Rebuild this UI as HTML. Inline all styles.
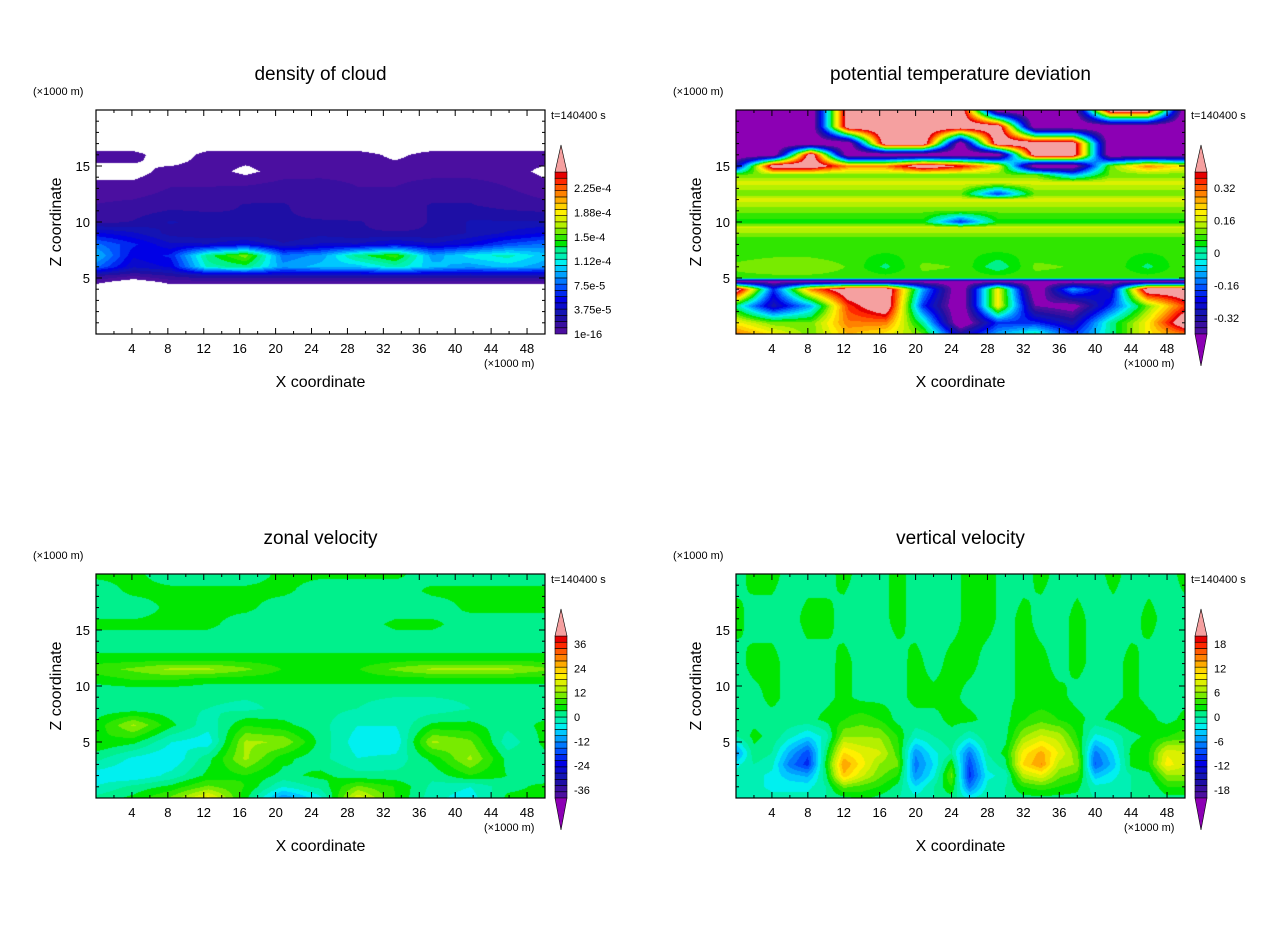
<!DOCTYPE html>
<html><head><meta charset="utf-8"><style>
html,body{margin:0;padding:0;background:#fff;}
#wrap{position:relative;width:1280px;height:926px;overflow:hidden;}
canvas{position:absolute;}
svg{position:absolute;left:0;top:0;}
text{font-family:"Liberation Sans",sans-serif;fill:#000;}
</style></head><body>
<div id="wrap">
<svg id="svg" width="1280" height="926"></svg>
</div>
<script>
// ---------- data ----------
const titles = ["density of cloud","potential temperature deviation","zonal velocity","vertical velocity"];
const cbMin = [0, -0.4, -40, -20];
const cbMax = [25, 0.4, 40, 20];
const cbLabels1 = [["1e-16",0],["3.75e-5",3.75],["7.5e-5",7.5],["1.12e-4",11.25],["1.5e-4",15],["1.88e-4",18.75],["2.25e-4",22.5]];
const cbLabels2 = [["-0.32",-0.32],["-0.16",-0.16],["0",0],["0.16",0.16],["0.32",0.32]];
const cbLabels3 = [["-36",-36],["-24",-24],["-12",-12],["0",0],["12",12],["24",24],["36",36]];
const cbLabels4 = [["-18",-18],["-12",-12],["-6",-6],["0",0],["6",6],["12",12],["18",18]];
const xTicks = [4,8,12,16,20,24,28,32,36,40,44,48];
const yTicks = [5,10,15];

// density of cloud (x1e-5), negative = no cloud
const p1Z = [20,17,16,14.5,13,11.5,10,9,8,7,6,5.2,4.6,4,0];
const p1Rows = [
[-1,-1,-1,-1,-1,-1,-1,-1,-1,-1,-1,-1,-1],
[-1,-1,-1,-1,-1,-1,-1,-1,-1,-1,-1,-1,-1],
[0.5,0.5,-1,0.5,0.5,0.5,0.5,0.5,-0.3,0.5,0.5,0.5,0.5],
[-0.5,-0.5,0.5,0.5,-0.3,0.5,0.6,0.6,0.6,0.6,0.6,0.5,-0.3],
[0.5,0.5,1,1,1.2,1.5,1.5,1,1,1.5,1.5,1,0.5],
[1,1.2,1.5,1.5,2,2,1.5,1,1.5,2,2,1.5,1.2],
[1.5,2,3,2.5,2,2,2,2,1.5,2,3,3,3],
[5,4,2.5,2,2,2,2.5,2,2,2,3,4,5],
[8,6,4,4,5,3,4,4,5,4,5,7,8],
[10,5,6,13,16,8,9,13,15,9,11,12,10],
[8,4,5,12,13,9,10,10,12,10,9,10,9],
[2,1,2,3,3,3,3,3,3,3,3,3,3],
[0.3,-1,0.3,0.3,0.3,0.3,0.3,0.3,0.3,0.3,0.3,0.3,0.3],
[-1,-1,-1,-1,-1,-1,-1,-1,-1,-1,-1,-1,-1],
[-1,-1,-1,-1,-1,-1,-1,-1,-1,-1,-1,-1,-1]];

// potential temperature deviation (K)
const p2Z = [20,18.5,17,16,15,14.2,13.5,12.5,12,11,10,9.5,8.5,7.5,6,5.0,4.7,4,2.5,1,0];
const p2Rows = [
[-0.5,-0.5,-0.5,0.5,0.5,0.5,0.5,-0.5,-0.5,-0.5,0.5,0.5,-0.5],
[-0.5,-0.5,-0.5,0.5,0.5,0.5,0.5,0.5,-0.5,-0.5,-0.5,-0.5,-0.5],
[-0.5,-0.5,-0.5,-0.5,0.5,0.5,-0.5,0.5,0.5,0.5,-0.5,-0.5,-0.5],
[-0.5,-0.5,0.5,-0.5,-0.5,-0.5,-0.5,-0.5,0.5,0.5,-0.5,-0.5,-0.5],
[-0.3,0.5,0.5,0.3,0.3,0.5,0.4,0.2,-0.5,-0.5,0.1,0.3,0.2],
[0.1,0.1,0.1,0.1,0.1,0.1,0.1,0.1,0.1,-0.1,0.1,0.1,0.1],
[0.17,0.17,0.17,0.17,0.17,0.17,0.17,0.17,0.17,0.17,0.17,0.17,0.17],
[0.1,0.1,0.1,0.1,0.1,0.1,0.1,-0.2,0.1,0.1,0.1,0.1,0.1],
[0.17,0.17,0.17,0.17,0.17,0.17,0.17,0.17,0.17,0.17,0.17,0.17,0.17],
[0.1,0.1,0.1,0.1,0.1,0.1,0.1,0.1,0.1,0.1,0.1,0.1,0.1],
[0.05,0.05,0.05,0.05,0.05,0.05,-0.2,0.05,0.05,0.05,0.05,0.05,0.05],
[0.16,0.16,0.16,0.16,0.16,0.16,0.16,0.16,0.16,0.16,0.16,0.16,0.16],
[0.08,0.08,0.08,0.08,0.08,0.08,0.08,0.08,0.08,0.08,0.08,0.08,0.08],
[0.07,0.07,0.07,0.07,0.07,0.07,0.07,0.07,0.07,0.07,0.07,0.07,0.07],
[0.1,0.12,0.12,0.09,0.02,0.1,0.09,0.0,0.1,0.09,0.09,0.02,0.09],
[0.08,0.08,0.08,0.08,0.08,0.08,0.08,0.08,0.08,0.08,0.08,0.08,0.08],
[-0.45,-0.45,-0.45,-0.45,-0.45,-0.45,-0.45,-0.45,-0.45,-0.45,-0.45,-0.45,-0.45],
[0.5,-0.2,0.3,0.5,0.5,-0.1,-0.5,0.2,-0.5,-0.1,-0.3,0.5,0.5],
[0,-0.3,-0.1,0.35,0.5,-0.2,-0.5,0.2,-0.4,-0.45,-0.2,0.1,0.35],
[0.2,0.1,0.1,0.3,0.3,0,-0.5,-0.2,-0.2,-0.3,0,0.2,0.5],
[0.3,0.2,0.1,0.25,0.2,0.1,-0.3,-0.1,0,-0.2,0,0.2,0.3]];

// zonal velocity (m/s)
const p3Z = [20,18.5,17,15.5,14,12.5,11.5,10.5,9.5,8,6.5,5,3.5,2,1,0];
const p3Rows = [
[4,4,1,1,1,4,4,4,4,1,1,1,1],
[1,4,4,4,4,4,1,1,1,4,4,4,4],
[1,1,4,4,4,1,1,1,1,1,4,4,4],
[4,4,4,4,1,1,1,1,4,4,1,1,1],
[1,1,1,1,1,1,1,1,1,1,1,1,1],
[4,4,4,4,4,4,4,4,4,4,4,4,4],
[8,10,13,13,10,6,4,6,10,13,13,13,10],
[4,6,6,4,4,4,4,4,4,4,4,4,4],
[1,1,1,1,1,1,1,1,1,1,1,1,1],
[1,1,1,0,-1,1,1,0,-2,-2,0,1,1],
[4,13,4,-2,6,4,1,-3,-3,4,4,1,4],
[6,4,-3,-5,13,12,2,-5,-6,13,10,-2,4],
[1,-4,-6,2,13,4,1,-3,-2,4,13,2,2],
[-5,-6,-2,4,6,2,4,1,1,1,6,3,1],
[-3,1,4,10,6,-3,1,10,6,-1,-3,2,4],
[1,4,10,20,4,-12,-4,18,6,-2,-5,4,4]];

// vertical velocity (m/s), x = 0,2,...,50
const p4Z = [20,16,12,9,7,5.5,4,3,2,1,0];
const p4Rows = [
[1,2,2,1,1,1,2,1,1,2,1,1,1,2,2,1,1,2,1,1,1,2,1,1,1,2],
[2,1,1,1,2,2,1,1,1,2,1,1,1,2,2,1,2,1,1,2,1,1,1,2,1,1],
[1,2,2,1,1,1,2,1,1,1,2,1,2,2,1,1,2,2,1,2,1,1,2,1,1,1],
[1,1,2,1,1,1,2,1,1,1,2,2,2,1,1,1,2,2,2,1,1,1,2,1,1,1],
[1,1,1,1,1,2,3,4,3,1,1,1,2,2,1,1,3,4,3,2,1,2,3,2,1,2],
[0,2,1,-1,-3,-1,6,6,6,3,-1,0,1,-1,1,1,6,8,7,3,-2,-1,1,2,3,4],
[-6,1,0,-5,-9,1,11,9,8,4,-6,-2,0,-7,0,2,10,13,9,5,-7,-3,2,3,9,8],
[-2,0,-1,-7,-10,2,14,10,6,5,-7,-3,3,-9,-1,1,11,14,7,6,-8,-4,2,3,10,8],
[-1,-1,-2,-4,-5,1,12,8,5,3,-6,-2,5,-10,-2,-1,7,9,5,4,-4,-2,0,1,6,6],
[0,-1,-2,-2,-2,0,5,4,3,1,-3,0,3,-7,-1,0,3,4,3,2,-1,-1,0,0,3,3],
[0,0,-1,-1,-1,0,1,2,1,0,-1,0,1,-2,0,0,1,1,1,1,0,0,0,0,1,1]];

const palette = ["#4b0fa0","#380fa0","#1e0fa5","#1414b4","#0a0acd","#0000e6","#0028f0","#0050ff","#0078ff","#00a0ff","#00c8ff","#00f0f0","#00f0b4","#00f08c","#00e600","#30e600","#78eb00","#b4f000","#dcf000","#fff000","#ffd200","#ffaa00","#ff8200","#ff5a00","#ff2800","#e60000"];
const underCol = "#8c00b4", overCol = "#f5a0a0";

// ---------- layout ----------
const origins = [[96,110],[736,110],[96,574],[736,574]];
const PW = 449, PH = 224;
const zData = [p1Z,p2Z,p3Z,p4Z], rowsData = [p1Rows,p2Rows,p3Rows,p4Rows];
const cbLabelSets = [cbLabels1,cbLabels2,cbLabels3,cbLabels4];
const NS = "http://www.w3.org/2000/svg";
const svg = document.getElementById('svg');
const wrap = document.getElementById('wrap');
function xs(ox,v){return ox + v/50*PW;}
function zs(oy,v){return oy + PH - v/20*PH;}
function hex(c){return [parseInt(c.substr(1,2),16),parseInt(c.substr(3,2),16),parseInt(c.substr(5,2),16)];}
const palRGB = palette.map(hex), underRGB = hex(underCol), overRGB = hex(overCol);
function mk(tag,attrs,parent){const e=document.createElementNS(NS,tag);for(const k in attrs)e.setAttribute(k,attrs[k]);(parent||svg).appendChild(e);return e;}
function txt(s,x,y,size,anchor,parent){const t=mk('text',{x:x,y:y,'font-size':size,'text-anchor':anchor||'start'},parent);t.textContent=s;return t;}

function sample(Z,R,x,z){
  const nx=R[0].length;
  let i=0; while(i<Z.length-2 && z<Z[i+1]) i++;
  let tz=(Z[i]-z)/(Z[i]-Z[i+1]); tz=Math.max(0,Math.min(1,tz));
  let fx=x/50*(nx-1); let j=Math.min(nx-2,Math.floor(fx)); let tx=fx-j;
  const a=R[i][j]*(1-tx)+R[i][j+1]*tx, b=R[i+1][j]*(1-tx)+R[i+1][j+1]*tx;
  return a*(1-tz)+b*tz;
}

for(let p=0;p<4;p++){
  const [ox,oy]=origins[p];
  const g=mk('g',{});
  
  
  const cv=document.createElement('canvas');
  cv.width=PW;cv.height=PH;cv.style.left=ox+'px';cv.style.top=oy+'px';
  
  
  wrap.insertBefore(cv,svg);
  const ctx=cv.getContext('2d');const img=ctx.createImageData(PW,PH);
  const lo=cbMin[p],hi=cbMax[p],n=palette.length;
  for(let py=0;py<PH;py++){for(let px=0;px<PW;px++){
    const v=sample(zData[p],rowsData[p],(px+0.5)/PW*50,20-(py+0.5)/PH*20);
    let c;
    if(p===0&&v<0)c=[255,255,255];
    else if(v<lo)c=underRGB;
    else if(v>=hi)c=overRGB;
    else c=palRGB[Math.min(n-1,Math.floor((v-lo)/(hi-lo)*n))];
    const k=(py*PW+px)*4;img.data[k]=c[0];img.data[k+1]=c[1];img.data[k+2]=c[2];img.data[k+3]=255;
  }}
  ctx.putImageData(img,0,0);
  const fr=mk('rect',{x:ox,y:oy,width:PW,height:PH,fill:'none',stroke:'#000','stroke-width':1.2},g);
  
  
  for(let v=2;v<50;v+=2){const L=(v%4===0)?6:3;const X=xs(ox,v);
    const t1=mk('line',{x1:X,x2:X,y1:oy,y2:oy+L,stroke:'#000'},g);
    
    
    const t2=mk('line',{x1:X,x2:X,y1:oy+PH,y2:oy+PH-L,stroke:'#000'},g);
    
    }
  for(let v=1;v<20;v++){const L=(v%5===0)?6:3;const Y=zs(oy,v);
    const t1=mk('line',{x1:ox,x2:ox+L,y1:Y,y2:Y,stroke:'#000'},g);
    
    
    const t2=mk('line',{x1:ox+PW,x2:ox+PW-L,y1:Y,y2:Y,stroke:'#000'},g);
    
    }
  xTicks.forEach(v=>{const t=txt(String(v),xs(ox,v),oy+PH+19,13,'middle',g);
    
    });
  yTicks.forEach(v=>{const t=txt(String(v),ox-6,zs(oy,v)+5,13,'end',g);
    
    });
  let t;
  t=txt(titles[p],ox+PW/2,oy-30,19,'middle',g);
  
  
  t=txt('(×1000 m)',ox-63,oy-15,11,'start',g);
  
  
  t=txt('(×1000 m)',ox+388,oy+PH+33,11,'start',g);
  
  
  t=txt('t=140400 s',ox+455,oy+9,11,'start',g);
  
  
  t=txt('X coordinate',ox+PW/2,oy+PH+53,16,'middle',g);
  
  
  t=txt('Z coordinate',0,0,16,'middle',g);
  t.setAttribute('transform','translate('+(ox-35)+','+(oy+PH/2)+') rotate(-90)');
  
  
  const cx=ox+459,cw=12,cTop=oy+62,cBot=oy+224,bh=(cBot-cTop)/n;
  for(let i=0;i<n;i++){const r=mk('rect',{x:cx,y:cBot-(i+1)*bh,width:cw,height:bh,fill:palette[i],stroke:'#000','stroke-width':0.6},g);
    
    }
  const up=mk('polygon',{points:`${cx},${cTop} ${cx+cw},${cTop} ${cx+cw/2},${cTop-27}`,fill:overCol,stroke:'#000','stroke-width':0.6},g);
  
  
  if(p>0){const dn=mk('polygon',{points:`${cx},${cBot} ${cx+cw},${cBot} ${cx+cw/2},${cBot+32}`,fill:underCol,stroke:'#000','stroke-width':0.6},g);
    
    }
  cbLabelSets[p].forEach(([s,v])=>{const Y=cBot-(v-lo)/(hi-lo)*(cBot-cTop);
    const l=txt(s,cx+19,Y+4,11,'start',g);
    
    });
}
</script>
</body></html>
